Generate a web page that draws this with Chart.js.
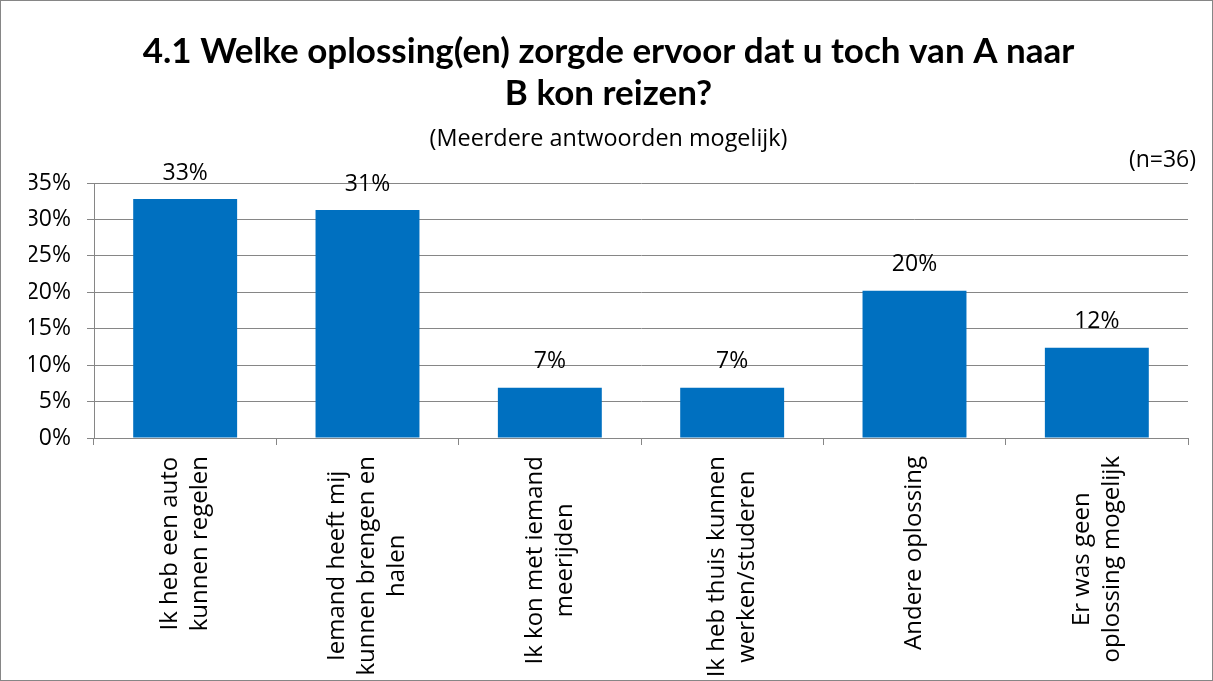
<!DOCTYPE html>
<html>
<head>
<meta charset="utf-8">
<script src="https://cdn.jsdelivr.net/npm/chart.js@4.4.1/dist/chart.umd.min.js"></script>
<style>
  html, body { margin: 0; padding: 0; background: #fff; }
  #wrap { width: 1213px; height: 681px; box-sizing: border-box; border: 1px solid #868686; }
  canvas { display: block; }
</style>
</head>
<body>
<div id="wrap"><canvas id="chart" width="1211" height="679"></canvas></div>
<script>
  // categories (multi-line, drawn rotated under the axis)
  const categories = [
    ["Ik heb een auto", "kunnen regelen"],
    ["Iemand heeft mij", "kunnen brengen en", "halen"],
    ["Ik kon met iemand", "meerijden"],
    ["Ik heb thuis kunnen", "werken/studeren"],
    ["Andere oplossing"],
    ["Er was geen", "oplossing mogelijk"]
  ];
  const percentages = [32.8, 31.3, 6.9, 6.9, 20.2, 12.4];
  const yTicks = [0, 5, 10, 15, 20, 25, 30, 35];

  const titleLines = ["4.1 Welke oplossing(en) zorgde ervoor dat u toch van A naar", "B kon reizen?"];
  const subtitleText = "(Meerdere antwoorden mogelijk)";
  const sampleText = "(n=36)";

  const TITLE_FONT = "Lato, 'Open Sans', sans-serif";
  const FONT = "'Open Sans', sans-serif";
  const GRID = "#868686";

  // draws the value labels, rotated category labels and the (n=36) note
  const textPlugin = {
    id: "textPlugin",
    afterDatasetsDraw(chart) {
      const ctx = chart.ctx;
      const meta = chart.getDatasetMeta(0);
      ctx.save();
      ctx.fillStyle = "#000";
      ctx.font = "23px " + FONT;
      ctx.textAlign = "center";
      ctx.textBaseline = "middle";
      meta.data.forEach((bar, i) => {
        ctx.fillText(Math.round(percentages[i]) + "%", bar.x, bar.y - 26);
      });

      // category labels under the x axis
      const xs = chart.scales.x;
      const top = chart.chartArea.bottom + 18;
      const lh = 30;
      ctx.font = "24px " + FONT;
      categories.forEach((lines, i) => {
        const x = xs.getPixelForValue(i);
        const maxW = Math.max(...lines.map(l => ctx.measureText(l).width));
        ctx.save();
        ctx.translate(x, top);
        ctx.rotate(-Math.PI / 2);
        lines.forEach((l, k) => {
          ctx.fillText(l, -maxW / 2, (k - (lines.length - 1) / 2) * lh);
        });
        ctx.restore();
      });

      ctx.font = "23px " + FONT;
      ctx.textAlign = "right";
      ctx.fillText(sampleText, 1195, 159);
      ctx.restore();
    }
  };

  new Chart(document.getElementById("chart"), {
    type: "bar",
    data: {
      labels: categories.map(c => c.join(" ")),
      datasets: [{
        data: percentages,
        backgroundColor: "#0070C0",
        borderWidth: 0,
        barPercentage: 0.57,
        categoryPercentage: 1
      }]
    },
    options: {
      responsive: false,
      animation: false,
      layout: { padding: { left: 28, right: 24, top: 0, bottom: 0 } },
      plugins: {
        legend: { display: false },
        tooltip: { enabled: false },
        title: {
          display: true,
          text: titleLines,
          color: "#000",
          font: { family: TITLE_FONT, size: 35, weight: "bold", lineHeight: 1.2 },
          padding: { top: 30, bottom: 0 }
        },
        subtitle: {
          display: true,
          text: subtitleText,
          color: "#000",
          font: { family: FONT, size: 23.4, lineHeight: 1.2 },
          padding: { top: 10, bottom: 30 }
        }
      },
      scales: {
        x: {
          offset: true,
          grid: { display: true, drawOnChartArea: false, offset: true, color: GRID, tickLength: 7 },
          border: { color: GRID },
          ticks: { display: false },
          afterFit: s => { s.height = 242; }
        },
        y: {
          min: 0,
          max: 35,
          afterBuildTicks: s => { s.ticks = yTicks.map(v => ({ value: v })); },
          grid: { color: GRID, tickLength: 7 },
          border: { color: GRID },
          ticks: {
            color: "#000",
            padding: 16,
            font: { family: FONT, size: 23 },
            callback: v => v + "%"
          },
          afterFit: s => { s.width = 65; }
        }
      }
    },
    plugins: [textPlugin]
  });
</script>
</body>
</html>
